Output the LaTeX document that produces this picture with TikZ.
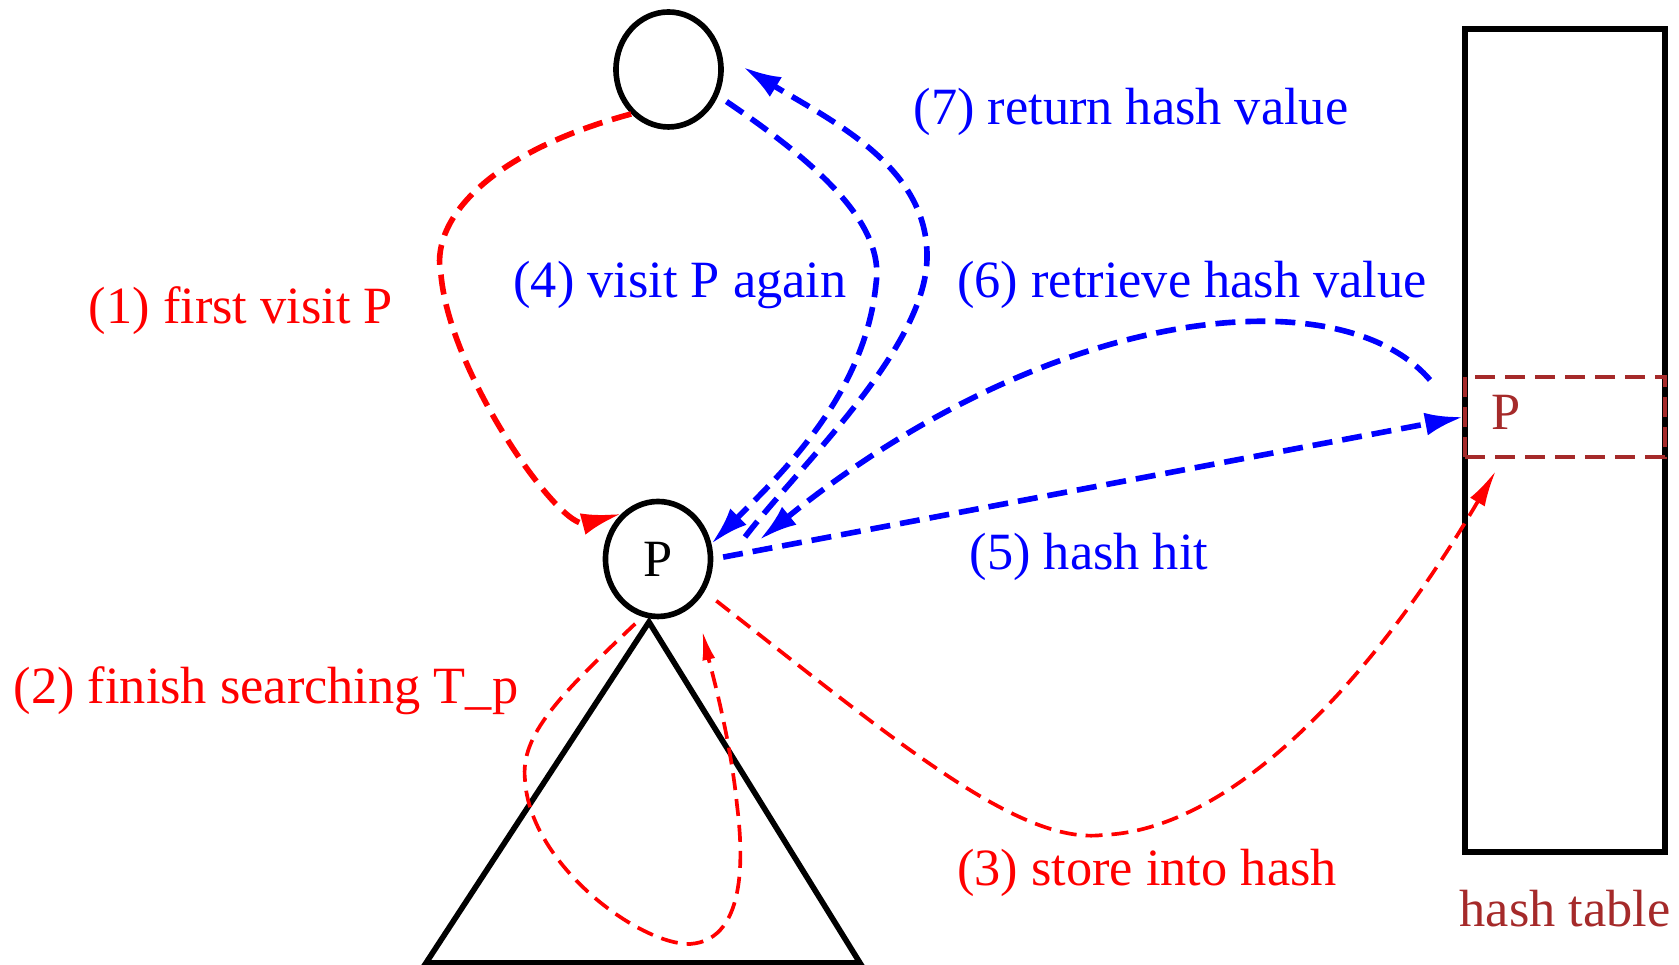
\documentclass[tikz,border=0pt]{standalone}
\usepackage{fontspec}
\setmainfont{Liberation Serif}
\usepackage{xcolor}
\usepackage{tikz}
\usetikzlibrary{shapes,arrows.meta,positioning}

\definecolor{tablebrown}{RGB}{165,42,42}
\newcommand{\labelsize}{\fontsize{14.9pt}{18pt}\selectfont}

\tikzset{
    treenode/.style={
        ellipse,
        draw,
        line width=1.6pt,
        minimum width=1.05cm,
        minimum height=1.15cm,
        inner sep=0pt,
        font=\labelsize
    },
    firstpass/.style={
        red,
        line width=1.6pt,
        dash pattern=on 0.2cm off 0.1cm,
        -{Latex[length=0.4cm,width=0.22cm]}
    },
    storepass/.style={
        red,
        line width=1.05pt,
        dash pattern=on 0.17cm off 0.09cm
    },
    secondpass/.style={
        blue,
        line width=1.6pt,
        dash pattern=on 0.2cm off 0.1cm,
        -{Latex[length=0.38cm,width=0.23cm]}
    },
    redlabel/.style={text=red, font=\labelsize},
    bluelabel/.style={text=blue, font=\labelsize}
}

\begin{document}
\begin{tikzpicture}
                \useasboundingbox (0,0) rectangle (16.79,9.65);

                \node[treenode] (top) at (6.685,8.955) {};
                \node[treenode] (pnode) at (6.58,4.06) {P};

                \coordinate (apex) at (6.49,3.43);
                \draw[
                    line width=1.6pt
                    ] (apex) -- (4.26,0.02) -- (8.60,0.02) -- cycle;

                \node[
                    draw,
                    line width=1.6pt,
                    minimum width=2cm,
                    minimum height=8.23cm
                    ] (table) at (15.65,5.245) {};

                \node[
                    draw=tablebrown,
                    text=tablebrown,
                    line width=1.1pt,
                    dash pattern=on 0.2cm off 0.1cm,
                    minimum height=0.8cm,
                    text width=1.48cm,
                    text depth=0.1cm,
                    inner xsep=0.26cm,
                    align=left,
                    font=\labelsize
                    ] (slot) at (15.65,5.48) {P};

                \node[
                    text=tablebrown,
                    font=\labelsize,
                    below=0.23cm of table
                    ] (tablename) {hash table};

                \node[redlabel] (firstlbl) at (2.41,6.54) {(1) first visit P};
                \node[redlabel] (finishlbl) at (2.66,2.74) {(2) finish searching T\_p};
                \node[redlabel] (storelbl) at (11.47,0.92) {(3) store into hash};
                \node[bluelabel] (againlbl) at (6.80,6.80) {(4) visit P again};
                \node[bluelabel] (hitlbl) at (10.89,4.08) {(5) hash hit};
                \node[bluelabel] (retrievelbl) at (11.92,6.80) {(6) retrieve hash value};
                \node[bluelabel] (returnlbl) at (11.31,8.53) {(7) return hash value};

                \coordinate (retstart) at (7.45,4.28);
                \coordinate (getstart) at (14.30,5.85);

                \draw[
                    firstpass
                ] (top.230) .. controls (4.8,8.1) and (4.3,7.4) .. (4.41,6.9)
                  .. controls (4.5,5.9) and (5.6,4.35) .. (pnode.129);

                \draw[
                    storepass,
                    -{Latex[length=0.3cm,width=0.13cm]},
                    shorten <=0.1cm,
                    shorten >=0.28cm
                ] (pnode.255) .. controls (5.6,2.7) and (5.2,2.3) .. (5.25,1.85)
                  .. controls (5.3,1.0) and (6.4,0.2) .. (6.9,0.21)
                  .. controls (7.5,0.25) and (7.42,1.2) .. (7.37,1.6)
                  .. controls (7.3,2.3) and (7.1,3.0) .. (pnode.-49);

                \draw[
                    storepass,
                    -{Latex[length=0.36cm,width=0.17cm]},
                    shorten <=0.15cm,
                    shorten >=0.14cm
                ] (pnode.-35) .. controls (9.0,2.2) and (10.2,1.2) .. (11.03,1.30)
                  .. controls (12.3,1.35) and (13.7,2.8) .. (slot.214);

                \draw[
                    secondpass,
                    shorten <=0.1cm
                ] (top.-28) .. controls (8.2,8.0) and (8.85,7.4) .. (8.76,6.81)
                  .. controls (8.65,5.7) and (7.8,4.9) .. (pnode.16);

                \draw[
                    secondpass,
                    shorten <=0.1cm
                ] (pnode.0) -- (slot.west);

                \draw[
                    secondpass,
                    shorten >=0.64cm
                ] (getstart) .. controls (13.4,6.9) and (10.5,6.6) .. (pnode.-22);

                \draw[
                    secondpass,
                    shorten >=0.25cm
                ] (retstart) .. controls (8.0,5.0) and (9.3,6.2) .. (9.27,7.12)
                  .. controls (9.25,8.0) and (8.3,8.45) .. (top.16);

            \end{tikzpicture}
\end{document}
